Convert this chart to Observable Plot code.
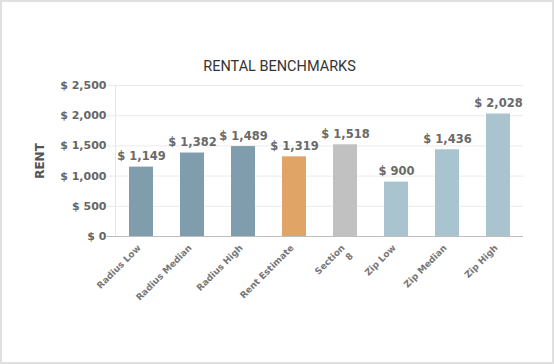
<!DOCTYPE html>
<html>
<head>
<meta charset="utf-8">
<script src="https://cdn.jsdelivr.net/npm/d3@7"></script>
<script src="https://cdn.jsdelivr.net/npm/@observablehq/plot@0.6"></script>
<style>
  html, body { margin: 0; padding: 0; background: #fff; overflow: hidden; }
  #wrap { position: relative; width: 555px; height: 364px; overflow: hidden; }
  #chart { position: absolute; left: 0; top: 0; width: 555px; }
  #title { position: absolute; left: 2px; top: 57px; width: 555px; text-align: center;
           font-family: Roboto, sans-serif; font-size: 14.5px; color: #333; line-height: 20px; }
  #border { position: absolute; left: 0; top: 0; width: 554px; height: 364px; box-sizing: border-box;
            border: 2px solid #e0e0e0; pointer-events: none; }
</style>
</head>
<body>
<div id="wrap">
  <div id="chart"></div>
  <div id="title">RENTAL BENCHMARKS</div>
  <div id="border"></div>
</div>
<script>
const categories = ["Radius Low", "Radius Median", "Radius High", "Rent Estimate", "Section 8", "Zip Low", "Zip Median", "Zip High"];
const tickLabels = ["Radius Low", "Radius Median", "Radius High", "Rent Estimate", "Section\n8", "Zip Low", "Zip Median", "Zip High"];
const values = [1149, 1382, 1489, 1319, 1518, 900, 1436, 2028];
const yTicks = [0, 500, 1000, 1500, 2000, 2500];
const palette = ["#809dae", "#809dae", "#809dae", "#e0a566", "#c1c1c1", "#a9c4cf", "#a9c4cf", "#a9c4cf"];

const data = categories.map((c, i) => ({category: c, value: values[i], tick: tickLabels[i]}));
const money = d => "$ " + d3.format(",")(d);

const chart = Plot.plot({
  width: 555,
  height: 364,
  marginLeft: 115,
  marginRight: 32,
  marginTop: 85,
  marginBottom: 128,
  style: {fontFamily: "'DejaVu Sans', sans-serif", background: "transparent"},
  x: {domain: categories, paddingInner: 0.53, paddingOuter: 0.265, label: null, axis: null},
  y: {domain: [0, 2500], label: null, axis: null},
  color: {domain: categories, range: palette},
  marks: [
    Plot.gridY(yTicks, {stroke: "#ebebeb", strokeOpacity: 1}),
    Plot.frame({anchor: "left", stroke: "#e6e6e6"}),
    Plot.axisY(yTicks, {
      tickSize: 8, tickPadding: 1, tickFormat: money,
      stroke: "#ebebeb", fill: "#666", fontWeight: "bold", fontSize: 11, label: null
    }),
    Plot.barY(data, {x: "category", y: "value", fill: "category"}),
    Plot.ruleY([0], {stroke: "#bdbdbd", insetLeft: -8}),
    Plot.text(data, {
      x: "category", y: "value", text: d => money(d.value),
      dy: -7, lineAnchor: "bottom", fill: "#6a6a6a", fontWeight: "bold", fontSize: 11.5
    }),
    Plot.text(data, {
      x: "category", frameAnchor: "bottom", text: "tick",
      rotate: -45, textAnchor: "end", lineAnchor: "top", lineHeight: 1.3,
      dx: -6, dy: 6, fill: "#777", fontWeight: "bold", fontSize: 9
    }),
    Plot.text(["RENT"], {
      frameAnchor: "left", dx: -75, rotate: -90, text: d => d,
      textAnchor: "middle", lineAnchor: "middle",
      fill: "#555", fontWeight: "bold", fontSize: 12
    })
  ]
});
document.getElementById("chart").appendChild(chart);
</script>
</body>
</html>
